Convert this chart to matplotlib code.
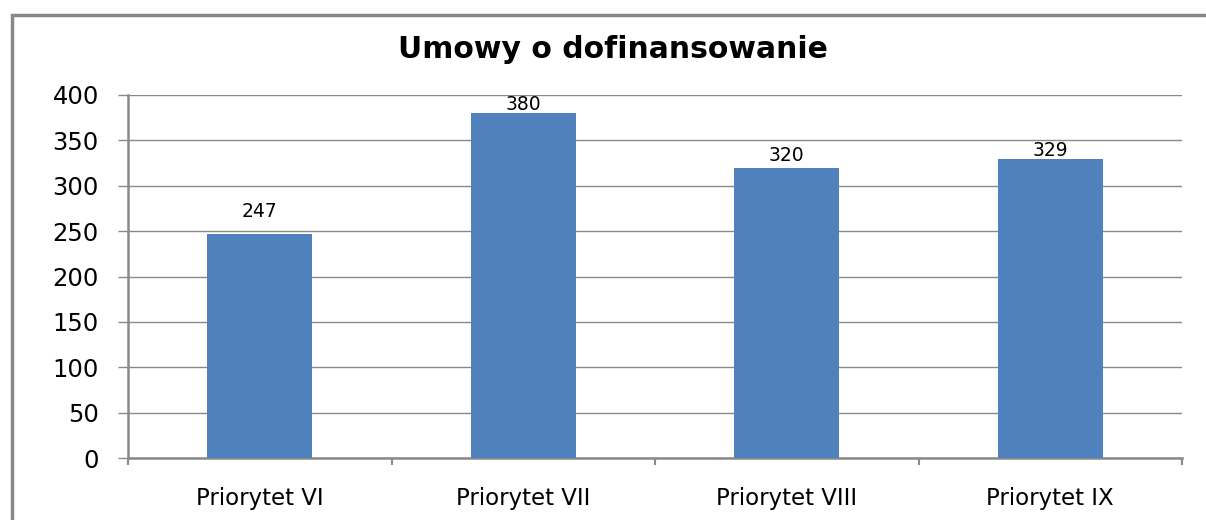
import numpy as np
import matplotlib
matplotlib.use("Agg")
import matplotlib.pyplot as plt
from matplotlib.patches import Rectangle

categories = ["Priorytet VI", "Priorytet VII", "Priorytet VIII", "Priorytet IX"]
values = [247, 380, 320, 329]
y_ticks = [0, 50, 100, 150, 200, 250, 300, 350, 400]

BAR_COLOR = "#4F81BD"
GRID_COLOR = "#898989"
W, H = 1206, 520

plt.rcParams['font.family'] = ['DejaVu Sans']

fig = plt.figure(figsize=(W / 100, H / 100), dpi=100)
ax = fig.add_axes([128 / W, (H - 458) / H, (1182 - 128) / W, (458 - 95) / H])

x = np.arange(len(categories))
ax.bar(x, values, width=0.4, color=BAR_COLOR, zorder=3)

# label offsets in points (Excel put them unevenly)
label_offsets = [16, 6.5, 8.5, 6.5]
for xi, v, off in zip(x, values, label_offsets):
    ax.annotate(str(v), (xi, v), xytext=(0, off), textcoords="offset points",
                ha="center", va="center", fontsize=13.5, color="black")

ax.set_xlim(-0.5, len(categories) - 0.5)
ax.set_ylim(0, 400)
ax.set_yticks(y_ticks)
ax.tick_params(axis="y", labelsize=17.5, length=7, width=1, color=GRID_COLOR,
               pad=14)
ax.yaxis.grid(True, color=GRID_COLOR, lw=1.0, zorder=0)

# boundary ticks on major, labels on minor
ax.set_xticks(np.arange(len(categories) + 1) - 0.5)
ax.set_xticklabels([])
ax.set_xticks(x, minor=True)
ax.set_xticklabels(categories, minor=True)
ax.tick_params(axis="x", which="major", length=5, width=1.5, color=GRID_COLOR)
ax.tick_params(axis="x", which="minor", length=0, labelsize=16.5, pad=21)

for s in ["top", "right"]:
    ax.spines[s].set_visible(False)
for s in ["left", "bottom"]:
    ax.spines[s].set_color(GRID_COLOR)
    ax.spines[s].set_linewidth(1.8)
ax.set_axisbelow(True)

fig.text(613 / W, 1 - 50 / H, "Umowy o dofinansowanie", ha="center",
         va="center", fontsize=21.5, fontweight="bold")

# outer chart frame, runs off the right and bottom edges
fig.patches.append(Rectangle((11.5 / W, -0.1), 1.2, 1.1 - 15 / H,
                             transform=fig.transFigure, fill=False,
                             edgecolor="#888888", lw=2.5))

fig.savefig("out.png", dpi=100)
